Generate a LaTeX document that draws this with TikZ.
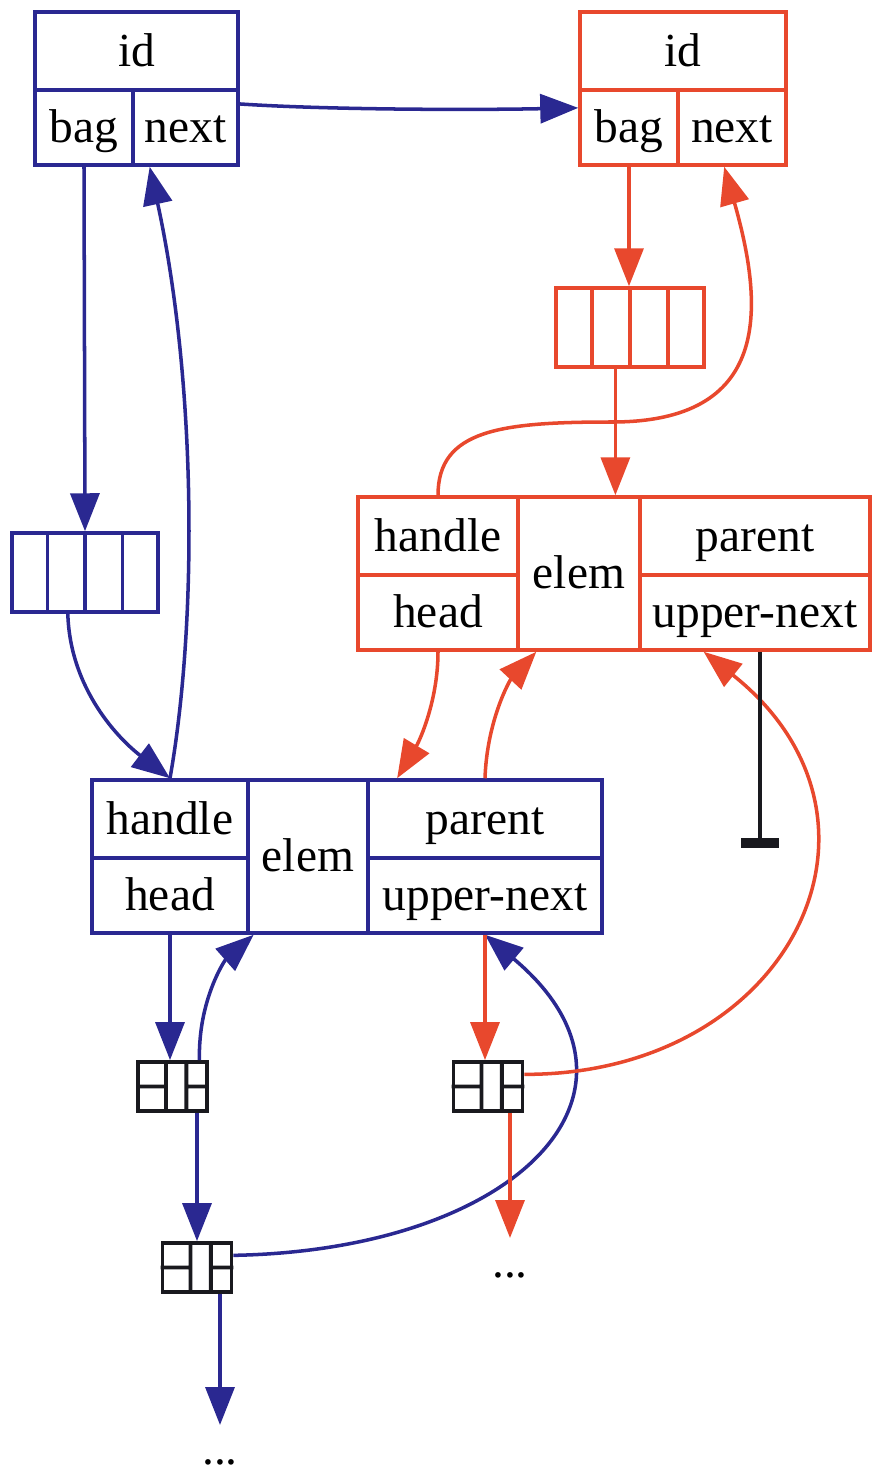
\documentclass[tikz,border=0pt]{standalone}
\usepackage{fontspec}
\setmainfont{Liberation Serif}
\usepackage{tikz}
\usetikzlibrary{calc,arrows.meta}
\definecolor{recblue}{RGB}{42,40,145}
\definecolor{recred}{RGB}{232,72,45}
\definecolor{recblack}{RGB}{25,25,30}

\begin{document}
\begin{tikzpicture}[x=0.02cm,y=-0.02cm,
	cell/.style={draw, rectangle, line width=2pt, inner sep=0pt, text height=19pt, text depth=1.5pt, font=\fontsize{27}{30}\selectfont},
	bcell/.style={cell, draw=recblue},
	rcell/.style={cell, draw=recred},
	item/.style={draw=recblack, rectangle, line width=2.2pt, inner sep=0pt, minimum width=1.38cm, minimum height=0.98cm},
	more/.style={inner sep=0pt, anchor=north, text height=22.5pt, font=\fontsize{27}{30}\selectfont},
	link/.style={line width=2pt, -{Triangle[length=0.76cm,width=0.58cm]}},
	blink/.style={link, recblue},
	rlink/.style={link, recred}]
	\useasboundingbox (0,0) rectangle (873,1480);

	% top records
	\node[bcell, minimum width=4.06cm, minimum height=1.56cm] (blue_id) at (136.5,51) {id};
	\node[bcell, minimum width=1.96cm, minimum height=1.5cm] (blue_bag) at (84,127.5) {bag};
	\node[bcell, minimum width=2.1cm, minimum height=1.5cm] (blue_next) at (185.5,127.5) {next};
	\node[rcell, minimum width=4.12cm, minimum height=1.56cm] (red_id) at (683,51) {id};
	\node[rcell, minimum width=1.96cm, minimum height=1.5cm] (red_bag) at (629,127.5) {bag};
	\node[rcell, minimum width=2.16cm, minimum height=1.5cm] (red_next) at (732,127.5) {next};

	% bags
	\node[bcell, minimum width=2.92cm, minimum height=1.58cm] (blue_arr) at (85,572.5) {};
	\node[rcell, minimum width=2.96cm, minimum height=1.58cm] (red_arr) at (630,327.5) {};
	\foreach \a/\c in {blue_arr/recblue, red_arr/recred}
		\foreach \f in {0.25,0.5,0.75}
			\draw[\c, line width=2pt] ($(\a.north west)!\f!(\a.north east)$) -- ($(\a.south west)!\f!(\a.south east)$);

	% elements
	\node[rcell, minimum width=3.2cm, minimum height=1.56cm] (red_handle) at (438,536) {handle};
	\node[rcell, minimum width=3.2cm, minimum height=1.5cm] (red_head) at (438,612.5) {head};
	\node[rcell, minimum width=2.44cm, minimum height=3.06cm] (red_elem) at (579,573.5) {elem};
	\node[rcell, minimum width=4.6cm, minimum height=1.56cm] (red_parent) at (755,536) {parent};
	\node[rcell, minimum width=4.6cm, minimum height=1.5cm] (red_upper) at (755,612.5) {upper-next};

	\node[bcell, minimum width=3.12cm, minimum height=1.56cm] (blue_handle) at (170,819) {handle};
	\node[bcell, minimum width=3.12cm, minimum height=1.5cm] (blue_head) at (170,895.5) {head};
	\node[bcell, minimum width=2.4cm, minimum height=3.06cm] (blue_elem) at (308,856.5) {elem};
	\node[bcell, minimum width=4.68cm, minimum height=1.56cm] (blue_parent) at (485,819) {parent};
	\node[bcell, minimum width=4.68cm, minimum height=1.5cm] (blue_upper) at (485,895.5) {upper-next};

	% list items
	\node[item] (item_a) at (172.5,1086.5) {};
	\node[item] (item_b) at (488,1086.5) {};
	\node[item] (item_c) at (197,1267.5) {};
	\foreach \k in {item_a,item_b,item_c}
		\draw[recblack, line width=2.2pt]
			($(\k.north west)!0.41!(\k.north east)$) -- ($(\k.south west)!0.41!(\k.south east)$)
			($(\k.north west)!0.69!(\k.north east)$) -- ($(\k.south west)!0.69!(\k.south east)$)
			(\k.west) -- ($(\k.west)!0.41!(\k.east)$)
			($(\k.west)!0.69!(\k.east)$) -- (\k.east);

	\node[more] (more_blue) at (220,1425) {...};
	\node[more] (more_red) at (510,1238) {...};
	\coordinate (null_end) at (760,848);

	% blue links
	\draw[blink] ($(blue_next.north east)!0.2!(blue_next.south east)$) .. controls (330,110) and (480,110) .. ($(red_bag.north west)!0.25!(red_bag.south west)$);
	\draw[blink] (blue_bag.south) -- (blue_arr.north);
	\draw[blink] ($(blue_arr.south west)!0.385!(blue_arr.south east)$) .. controls (70,690) and (120,740) .. (blue_handle.north);
	\draw[blink] (blue_handle.north) .. controls (198,620) and (196,380) .. ($(blue_next.south west)!0.17!(blue_next.south east)$);
	\draw[blink] (blue_head.south) -- (blue_head.south |- item_a.north);
	\draw[blink] ($(item_a.north west)!0.87!(item_a.north east)$) .. controls (198,1000) and (225,960) .. ($(blue_elem.south west)!0.06!(blue_elem.south east)$);
	\draw[blink] (item_c.north |- item_a.south) -- (item_c.north);
	\draw[blink] ($(item_c.north east)!0.27!(item_c.south east)$) .. controls (520,1250) and (670,1090) .. (blue_upper.south);
	\draw[blink] (more_blue.north |- item_c.south) -- (more_blue.north);

	% red links
	\draw[rlink] (red_bag.south) -- (red_bag.south |- red_arr.north);
	\coordinate (red_drop) at ($(red_elem.north west)!0.79!(red_elem.north east)$);
	\draw[rlink] (red_drop |- red_arr.south) -- (red_drop);
	\draw[rlink] (red_handle.north) .. controls (438,430) and (500,422) .. (612,422) .. controls (770,422) and (765,310) .. ($(red_next.south west)!0.43!(red_next.south east)$);
	\draw[rlink] (red_head.south) .. controls (438,700) and (420,740) .. ($(blue_parent.north west)!0.13!(blue_parent.north east)$);
	\draw[rlink] (blue_parent.north) .. controls (487,720) and (510,680) .. ($(red_elem.south west)!0.16!(red_elem.south east)$);
	\draw[rlink] (blue_upper.south) -- (blue_upper.south |- item_b.north);
	\draw[rlink] ($(item_b.north east)!0.27!(item_b.south east)$) .. controls (790,1075) and (915,820) .. ($(red_upper.south west)!0.28!(red_upper.south east)$);
	\draw[rlink] (more_red.north |- item_b.south) -- (more_red.north);

	% null pointer
	\draw[recblack, line width=2pt, -{Rectangle[length=0.2cm,width=0.76cm]}] (null_end |- red_upper.south) -- (null_end);
\end{tikzpicture}
\end{document}
